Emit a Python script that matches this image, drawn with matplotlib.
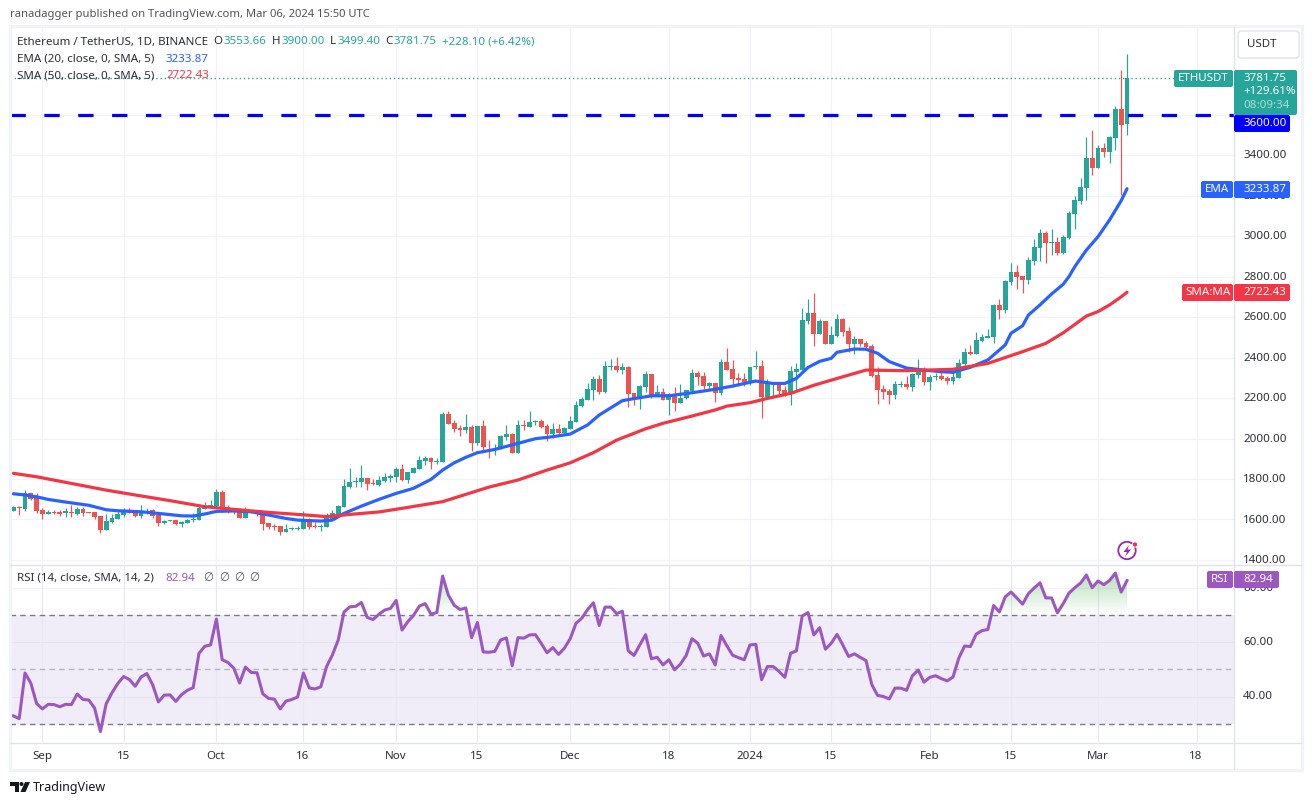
import numpy as np
import matplotlib
matplotlib.use("Agg")
import matplotlib.pyplot as plt
from matplotlib.patches import FancyBboxPatch, Rectangle, Circle, Polygon
from matplotlib.path import Path

plt.rcParams['font.family'] = ['Noto Sans', 'DejaVu Sans']

# Daily candles, ETHUSDT 27 Aug 2023 -> 6 Mar 2024 (candle number 1..193)
opens = [1643,1661,1651,1730,1709,1646,1627,1638,1638,1633,1637,1627,1651,1637,1637,1617,1549,1587,1604,1622,
         1640,1637,1618,1632,1647,1620,1584,1594,1595,1577,1584,1599,1599,1653,1666,1666,1735,1660,1655,1647,
         1607,1647,1637,1632,1582,1567,1566,1538,1554,1554,1553,1602,1566,1564,1562,1600,1627,1661,1758,1785,
         1785,1805,1780,1772,1788,1806,1810,1849,1795,1829,1851,1890,1903,1885,1884,2121,2076,2052,2043,2057,
         1979,2062,1964,1961,1958,2009,2022,1930,2067,2057,2081,2086,2062,2022,2047,2027,2047,2081,2160,2190,
         2239,2294,2230,2355,2358,2338,2353,2225,2200,2254,2319,2215,2230,2190,2220,2175,2200,2235,2323,2309,
         2259,2274,2225,2378,2343,2299,2294,2274,2351,2358,2205,2271,2269,2239,2220,2328,2338,2580,2620,2516,
         2580,2467,2506,2590,2531,2467,2491,2472,2457,2314,2245,2235,2215,2264,2269,2254,2314,2343,2279,2304,
         2309,2299,2284,2299,2368,2427,2417,2482,2498,2501,2660,2635,2773,2823,2803,2783,2877,2941,3015,2968,
         2971,2917,2991,3109,3173,3238,3386,3337,3435,3416,3485,3628,3553.66]
closes = [1661,1658,1730,1702,1642,1627,1637,1632,1628,1640,1633,1651,1633,1633,1614,1549,1592,1607,1627,1643,
          1633,1618,1638,1643,1618,1584,1592,1595,1577,1587,1597,1604,1658,1666,1671,1735,1653,1647,1638,1607,
          1645,1633,1630,1577,1562,1564,1538,1551,1558,1558,1602,1562,1562,1567,1607,1630,1666,1765,1783,1790,
          1805,1777,1777,1795,1808,1816,1849,1795,1834,1854,1894,1903,1884,1889,2121,2073,2047,2042,2057,1979,
          2062,1958,1961,1964,2012,2022,1930,2067,2063,2081,2086,2057,2022,2047,2027,2052,2086,2165,2195,2244,
          2294,2230,2358,2358,2338,2351,2220,2200,2259,2319,2210,2230,2190,2220,2175,2200,2239,2323,2304,2259,
          2274,2225,2378,2338,2294,2289,2279,2353,2358,2205,2272,2276,2235,2216,2333,2343,2585,2620,2516,2580,
          2467,2511,2590,2526,2467,2491,2467,2452,2309,2240,2230,2215,2269,2269,2254,2319,2343,2279,2304,2309,
          2294,2284,2304,2373,2427,2417,2487,2501,2506,2660,2635,2778,2823,2798,2783,2882,2946,3015,2966,2971,
          2917,2996,3114,3178,3243,3386,3337,3435,3416,3490,3628,3549,3781.75]
highs = [1665,1666,1745,1730,1729,1655,1647,1645,1645,1655,1670,1660,1660,1637,1637,1618,1625,1625,1642,1656,
         1655,1642,1670,1656,1653,1620,1597,1597,1597,1594,1600,1633,1670,1688,1696,1750,1745,1670,1658,1655,
         1660,1647,1643,1633,1582,1576,1566,1577,1564,1566,1640,1605,1589,1577,1630,1647,1671,1800,1854,1811,
         1869,1805,1801,1814,1828,1824,1857,1874,1834,1861,1913,1913,1907,1902,2131,2136,2091,2065,2121,2068,
         2062,2091,1992,1974,2017,2067,2025,2091,2091,2136,2091,2095,2072,2076,2073,2057,2113,2185,2207,2276,
         2309,2314,2384,2391,2403,2371,2358,2225,2264,2333,2319,2264,2249,2226,2254,2269,2239,2343,2333,2328,
         2279,2274,2393,2447,2388,2323,2323,2353,2432,2388,2294,2279,2279,2259,2358,2371,2645,2689,2719,2590,
         2580,2556,2615,2595,2551,2506,2491,2482,2467,2355,2264,2245,2284,2284,2309,2322,2393,2353,2314,2324,
         2334,2309,2329,2393,2447,2462,2526,2516,2541,2665,2689,2783,2867,2857,2803,2897,2986,3035,3025,3035,
         2996,3005,3124,3198,3287,3490,3524,3450,3460,3495,3643,3821,3900]
lows = [1640,1622,1643,1696,1633,1604,1627,1627,1618,1614,1614,1623,1618,1633,1604,1534,1549,1582,1600,1614,
        1632,1614,1609,1627,1609,1569,1577,1591,1572,1564,1582,1587,1597,1651,1663,1660,1638,1633,1625,1607,
        1607,1630,1618,1548,1553,1548,1523,1538,1548,1548,1553,1553,1556,1543,1562,1597,1625,1660,1755,1758,
        1762,1745,1770,1765,1785,1783,1786,1790,1780,1828,1849,1869,1849,1874,1884,2070,2034,2014,2029,1938,
        1968,1938,1905,1920,1948,1992,1930,1930,2042,2057,2067,2053,1988,2001,2022,2022,2047,2081,2155,2190,
        2190,2220,2226,2338,2328,2319,2155,2165,2146,2230,2200,2210,2190,2116,2136,2175,2193,2231,2264,2244,
        2244,2180,2215,2338,2254,2259,2259,2264,2343,2101,2205,2205,2220,2210,2165,2235,2338,2566,2457,2516,
        2467,2467,2501,2506,2427,2417,2457,2447,2302,2170,2195,2170,2195,2255,2245,2235,2299,2264,2240,2289,
        2289,2269,2269,2299,2358,2412,2417,2477,2497,2472,2590,2620,2758,2739,2719,2763,2857,2877,2867,2907,
        2907,2912,2986,3035,3159,3178,3302,3337,3391,3361,3425,3203,3499.4]

ema_day = [1,3,5,7,10,14,17,19,23,27,30,32,34,36,39,42,45,48,50,54,56,58,61,64,67,70,73,75,77,79,81,84,88,91,
           94,97,100,102,106,108,111,114,118,122,125,129,132,134,136,138,140,142,143,146,148,150,152,155,158,
           161,163,166,169,172,173,175,176,178,180,182,183,184,186,188,190,192,193]
ema_val = [1727,1721,1712,1699,1686,1670,1648,1643,1638,1627,1618,1617,1627,1640,1642,1638,1622,1605,1597,1592,
           1597,1630,1666,1699,1729,1754,1798,1844,1880,1907,1930,1946,1976,1999,2009,2022,2067,2116,2187,2197,
           2211,2211,2226,2243,2259,2284,2272,2272,2297,2351,2381,2396,2426,2442,2441,2421,2380,2348,2338,2330,
           2327,2352,2388,2462,2520,2557,2610,2660,2714,2762,2800,2849,2931,2997,3080,3175,3233.87]

sma_day = [1,5,11,17,22,28,34,39,45,51,55,59,64,68,75,83,88,93,97,101,105,110,113,118,122,124,128,131,135,139,
           144,148,155,163,169,175,179,182,186,188,190,192,193]
sma_val = [1828,1811,1778,1745,1721,1693,1663,1650,1635,1623,1614,1625,1637,1655,1688,1760,1795,1844,1880,1930,
           1992,2048,2075,2111,2141,2160,2177,2198,2223,2263,2305,2338,2335,2342,2371,2429,2470,2522,2605,2627,
           2660,2700,2722.43]

rsi_val = [32.8,31.8,48.7,45,37.4,35.4,37.1,37,36.2,37.1,37,40.9,38.9,38.7,35.7,27,37.3,41.4,44.8,47.4,
           46.3,43.8,47.2,48.5,44.4,38,40.5,40.6,38.2,40.7,42.3,43.3,56,58.6,59.1,68.7,53.6,52.6,50.5,45,
           50.9,48.9,48.8,41,39.3,39,35.4,38.3,38.9,39.8,48.7,43.2,42.8,43.6,51.1,55.4,60.9,71.3,73.2,73.4,
           74.8,69.3,68.5,70.4,72,72.6,75.6,64.6,67.7,70.1,73.5,74.4,70.5,71.1,84.6,77.5,73.8,72.2,72.8,61.8,
           67.4,56.5,56.4,56.7,60.9,61.7,51.4,61.8,61.6,62.8,62.9,59.7,56.2,58.1,55.6,57.9,61.4,67.1,69,72.2,
           74.7,66.3,73.1,73.1,70.7,71.6,57,55.2,59.1,62.9,54,54.5,51.7,53.6,49.9,52,55.2,61.4,59.7,55,
           55.8,51.7,62.6,58.8,55.3,54.4,53.6,59.1,59.3,46.2,51.1,51.1,49.3,47.1,56,56.9,69.8,71.1,62.8,65.5,
           57.5,59.7,63,59.1,54.8,55.8,54.5,53.3,44.4,40.4,40,39.1,43.1,43.1,42.3,47.7,49.8,45.3,47.1,47.7,
           46.6,45.8,47.2,54.2,58.7,58.5,63.1,64.4,64.8,73.7,71.3,76.9,78.7,76.5,74.2,78.1,80.2,82.1,76.5,76.5,
           71,74.4,78.3,80.3,82,85,80.3,82.8,81.4,83,85.7,78.7,82.94]

price_ticks = [1400,1600,1800,2000,2200,2400,2600,2800,3000,3200,3400]
rsi_ticks = [40,60,80]
date_ticks = [6,20,36,51,67,81,97,114,128,142,159,173,188,205]
date_labels = ['Sep','15','Oct','16','Nov','15','Dec','18','2024','15','Feb','15','Mar','18']
hline_price = 3600
last_close = 3781.75

W, H = 1312, 805
GREEN, RED = '#26a69a', '#ef5350'
BLUE, SMA_RED, PURPLE = '#2962ff', '#f23645', '#9c58c0'
GRID, BORDER, TXT = '#f0f3fa', '#e0e3eb', '#2a2e39'
FS = 8.3


def pane(l, t, r, b):
    a = fig.add_axes([l/W, 1-b/H, (r-l)/W, (b-t)/H])
    a.set_xticks([])
    a.set_yticks([])
    for s in a.spines.values():
        s.set_visible(False)
    return a


fig = plt.figure(figsize=(W/100, H/100), dpi=100, facecolor='white')
days = np.arange(1, len(closes)+1)
x0, x1 = 193-(1127-10)/5.8, 193+(1234-10-1117)/5.8

# price pane
ax = pane(10, 28, 1234, 564)
ax.set_xlim(x0, x1)
ax.set_ylim(1380, 4028)
for p in price_ticks + [hline_price]:
    ax.axhline(p, color=GRID, lw=0.85, zorder=1)
for d in date_ticks:
    ax.axvline(d, color=GRID, lw=0.85, zorder=1)

op, cl = np.array(opens), np.array(closes)
cols = [GREEN if c >= o else RED for o, c in zip(op, cl)]
ax.vlines(days, lows, highs, colors=cols, lw=0.85, zorder=3)
ax.bar(days, np.maximum(np.abs(cl-op), 2.5), bottom=np.minimum(op, cl), width=0.8, color=cols, zorder=3)
ax.plot(ema_day, ema_val, color=BLUE, lw=2.3, zorder=4, solid_capstyle='round')
ax.plot(sma_day, sma_val, color=SMA_RED, lw=2.3, zorder=4, solid_capstyle='round')
ax.axhline(hline_price, color='#0000ff', lw=2.3, ls=(0, (4.8, 5.8)), zorder=5, dash_capstyle='butt')
ax.plot([x0, 193+(1174-1127)/5.8], [last_close, last_close], color=GREEN, lw=1, ls=(0, (1, 2)), zorder=5)

# rsi pane
ar = pane(10, 565, 1234, 742)
ar.set_xlim(x0, x1)
ar.set_ylim(23.15, 88.7)
ar.axhspan(30, 70, color='#7e57c2', alpha=0.1, lw=0, zorder=1)
for v in rsi_ticks:
    ar.axhline(v, color=GRID if v == 80 else '#e6e3f0', lw=0.85, zorder=1)
for d in date_ticks:
    ar.axvline(d, color='#e9e8f2', lw=0.85, zorder=1)
for v, c in [(70, '#787b86'), (50, '#b2b5be'), (30, '#787b86')]:
    ar.axhline(v, color=c, lw=1, ls=(0, (4, 3)), zorder=2)

rsi = np.array(rsi_val)
poly = ar.fill_between(days, rsi, 70, where=rsi > 70, interpolate=True, color='none')
rgba = np.zeros((100, 1, 4))
rgba[..., :3] = np.array([76, 175, 80])/255
rgba[..., 3] = np.linspace(0.42, 0, 100)[:, None]
im = ar.imshow(rgba, extent=(x0, x1, 70, 86), aspect='auto', zorder=2)
im.set_clip_path(Path.make_compound_path(*poly.get_paths()), transform=ar.transData)
ar.set_xlim(x0, x1)
ar.set_ylim(23.15, 88.7)
ar.plot(days, rsi, color=PURPLE, lw=2.2, zorder=4, solid_joinstyle='round')

# everything else is drawn in page pixels on top
ui = fig.add_axes([0, 0, 1, 1], zorder=10)
ui.set_xlim(0, W)
ui.set_ylim(H, 0)
ui.axis('off')
ui.patch.set_alpha(0)

ui.add_patch(Rectangle((9.5, 26.5), 1292, 743, fill=False, ec=GRID, lw=2.2))
ui.plot([1234, 1234], [27, 769], color=BORDER, lw=1)
ui.plot([10, 1301], [564.5, 564.5], color=BORDER, lw=1)
ui.plot([10, 1301], [742.5, 742.5], color=BORDER, lw=1)


def txt(x, y, s, c=TXT, fs=FS, **kw):
    ui.text(x, y, s, color=c, fontsize=fs, va='center', ha=kw.pop('ha', 'left'), **kw)


def tag(l, t, r, b, c):
    ui.add_patch(FancyBboxPatch((l+2, t+2), r-l-4, b-t-4, boxstyle='round,pad=2', fc=c, ec='none', zorder=6))


txt(10, 14.5, 'ranadagger published on TradingView.com, Mar 06, 2024 15:50 UTC', '#50535e', 8.1)
txt(17, 42, 'Ethereum / TetherUS, 1D, BINANCE')
for x, s, c in [(213.5, 'O', TXT), (223, '3553.66', GREEN), (272, 'H', TXT), (281, '3900.00', GREEN),
                (330, 'L', TXT), (337, '3499.40', GREEN), (385, 'C', TXT), (393, '3781.75', GREEN),
                (442, '+228.10 (+6.42%)', GREEN)]:
    txt(x, 42, s, c)
txt(17, 59, 'EMA (20, close, 0, SMA, 5)')
txt(166, 59, '3233.87', BLUE)
txt(17, 76, 'SMA (50, close, 0, SMA, 5)')
txt(166, 76, '2722.43', SMA_RED)
txt(17, 578, 'RSI (14, close, SMA, 14, 2)')
txt(165, 578, '82.94', PURPLE)
for x in [203, 219, 234, 249]:
    txt(x, 578, '\u2205', '#50535e')

for p in price_ticks:
    txt(1243, 560-(p-1400)*0.2024+0.5, '%.2f' % p)
for v in rsi_ticks:
    txt(1243, 588.5+(80-v)*2.7, '%.2f' % v)
for d, s in zip(date_ticks, date_labels):
    px = 1127-(193-d)*5.8
    txt(px-0.5, 756, s, ha='center', fontweight='bold' if s == '2024' else 'normal')

# USDT button
ui.add_patch(FancyBboxPatch((1241, 34), 55, 21, boxstyle='round,pad=3', fc='white', ec=BORDER, lw=1, zorder=6))
txt(1247, 44.5, 'USDT', zorder=7)

# right-hand price tags
tag(1174, 70, 1233, 87, GREEN)
txt(1203.5, 78.5, 'ETHUSDT', 'white', ha='center', zorder=7)
tag(1234, 70, 1297, 115, GREEN)
txt(1243, 78.5, '3781.75', 'white', zorder=7)
txt(1243, 92, '+129.61%', 'white', zorder=7)
txt(1243, 106, '08:09:34', '#a8dcd6', zorder=7)
tag(1234, 115, 1290, 132, '#0000ff')
txt(1243, 123.5, '3600.00', 'white', zorder=7)
tag(1201, 181, 1233, 198, BLUE)
txt(1217, 189.5, 'EMA', 'white', ha='center', zorder=7)
tag(1234, 181, 1290, 198, BLUE)
txt(1243, 189.5, '3233.87', 'white', zorder=7)
tag(1182, 284, 1233, 301, SMA_RED)
txt(1207.5, 292.5, 'SMA:MA', 'white', ha='center', zorder=7)
tag(1234, 284, 1290, 301, SMA_RED)
txt(1243, 292.5, '2722.43', 'white', zorder=7)
tag(1207, 571, 1233, 588, PURPLE)
txt(1220, 579.5, 'RSI', 'white', ha='center', zorder=7)
tag(1234, 571, 1279, 588, PURPLE)
txt(1243, 579.5, '82.94', 'white', zorder=7)

# lightning badge
ui.add_patch(Circle((1127, 550.5), 8.7, fill=False, ec='#9c27b0', lw=1.3, zorder=6))
ui.add_patch(Polygon([(1129, 545), (1123.5, 552), (1127, 552), (1125, 557), (1131, 549.5), (1127.5, 549.5)],
                     fc='#9c27b0', ec='none', zorder=7))
ui.add_patch(Circle((1135, 544.5), 2.6, fc='#f23645', ec='white', lw=0.6, zorder=8))

# TradingView mark + name
ui.add_patch(Polygon([(10, 782), (19, 782), (19, 792), (14.5, 792), (14.5, 786), (10, 786)], fc='#131722', ec='none'))
ui.add_patch(Circle((21.5, 784), 2, fc='#131722', ec='none'))
ui.add_patch(Polygon([(25, 782), (30, 782), (25.5, 792), (20.5, 792)], fc='#131722', ec='none'))
txt(33, 787.5, 'TradingView', '#131722', 9)

fig.savefig('out.png', dpi=100)
